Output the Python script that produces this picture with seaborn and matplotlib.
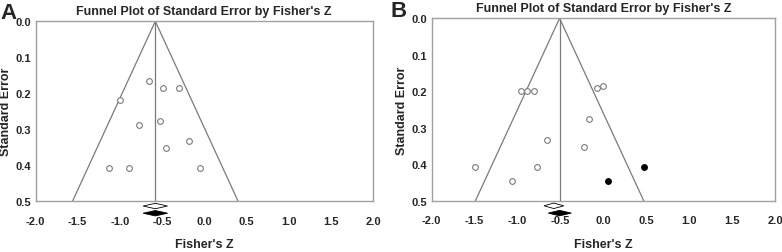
import numpy as np
import pandas as pd
import seaborn as sns
import matplotlib.pyplot as plt
from matplotlib.patches import Polygon

# Panel A: estudios observados
a_z = [-0.651, -0.489, -0.299, -1.002, -0.524, -0.777, -0.185, -0.453, -1.129, -0.888, -0.046]
a_se = [0.166, 0.186, 0.186, 0.218, 0.277, 0.289, 0.333, 0.353, 0.408, 0.408, 0.408]
a_mean = -0.580          # centro del embudo
a_obs = (-0.725, -0.580, -0.435)   # diamante blanco (IC, media observada)
a_adj = (-0.725, -0.580, -0.435)   # diamante negro (ajustado)

# Panel B: observados + imputados (trim and fill)
b_z = [-0.965, -0.892, -0.808, -0.073, -0.004, -0.162, -0.662, -0.227, -1.492, -0.777, -1.065]
b_se = [0.199, 0.199, 0.199, 0.191, 0.185, 0.276, 0.333, 0.353, 0.407, 0.407, 0.446]
b_imp_z = [0.477, 0.050]
b_imp_se = [0.407, 0.446]
b_mean = -0.510
b_obs = (-0.692, -0.577, -0.461)
b_adj = (-0.642, -0.510, -0.373)

sns.set_style('white')
plt.rcParams['font.family'] = ['Liberation Sans', 'DejaVu Sans']
plt.rcParams['font.weight'] = 'bold'

gris = '#7a7a7a'
fig = plt.figure(figsize=(7.82, 2.53), dpi=100)
axA = fig.add_axes([35.5 / 782, 1 - 202 / 253, (373 - 35.5) / 782, (202 - 22.3) / 253])
axB = fig.add_axes([431.7 / 782, 1 - 201.7 / 253, (775 - 431.7) / 782, (201.7 - 19.3) / 253])


def diamante(ax, d, y, color):
    lo, mid, hi = d
    h = 0.0075
    p = Polygon([(lo, y), (mid, y - h), (hi, y), (mid, y + h)], closed=True,
                facecolor=color, edgecolor='black', linewidth=0.6, clip_on=False, zorder=5)
    ax.add_patch(p)


def panel(ax, z, se, mean, obs, adj, xmin, imp_z=None, imp_se=None):
    # embudo
    ax.plot([mean - 1.96 * 0.5, mean, mean + 1.96 * 0.5], [0.5, 0, 0.5], color=gris, lw=0.9, zorder=1)
    ax.plot([mean, mean], [0, 0.5], color=gris, lw=0.9, zorder=1)
    df = pd.DataFrame({'z': z, 'se': se})
    sns.scatterplot(data=df, x='z', y='se', ax=ax, marker='o', s=17, facecolor='white',
                    edgecolor=gris, linewidth=0.8, zorder=3)
    if imp_z is not None:
        di = pd.DataFrame({'z': imp_z, 'se': imp_se})
        sns.scatterplot(data=di, x='z', y='se', ax=ax, marker='o', s=17, color='black',
                        edgecolor='black', linewidth=0.8, zorder=3)
    diamante(ax, obs, 0.514, 'white')
    diamante(ax, adj, 0.534, 'black')
    ax.set_xlim(xmin, 2.0)
    ax.set_ylim(0.5, 0.0)
    ax.set_xticks(np.arange(-2.0, 2.01, 0.5))
    ax.set_yticks(np.arange(0.0, 0.51, 0.1))
    ax.set_xticklabels([f'{v:.1f}' for v in np.arange(-2.0, 2.01, 0.5)])
    ax.set_yticklabels([f'{v:.1f}' for v in np.arange(0.0, 0.51, 0.1)])
    ax.tick_params(axis='x', direction='inout', length=3, width=0.8, color=gris, pad=9, labelsize=8)
    ax.tick_params(axis='y', direction='out', length=2, width=0.8, color=gris, pad=1.5, labelsize=8)
    for s in ax.spines.values():
        s.set_color('#a0a0a0')
        s.set_linewidth(1.0)
    ax.set_xlabel("Fisher's Z", fontsize=9, fontweight='bold', labelpad=9)
    ax.set_ylabel('Standard Error', fontsize=9, fontweight='bold', labelpad=2)
    ax.set_title("Funnel Plot of Standard Error by Fisher's Z", fontsize=9, fontweight='bold', pad=5)


panel(axA, a_z, a_se, a_mean, a_obs, a_adj, -2.0)
panel(axB, b_z, b_se, b_mean, b_obs, b_adj, -1.953, b_imp_z, b_imp_se)

fig.text(0.0, 1 - 19 / 253, 'A', fontsize=16, fontweight='bold')
fig.text(391 / 782, 1 - 17 / 253, 'B', fontsize=16, fontweight='bold')

plt.savefig('out.png', dpi=100)
